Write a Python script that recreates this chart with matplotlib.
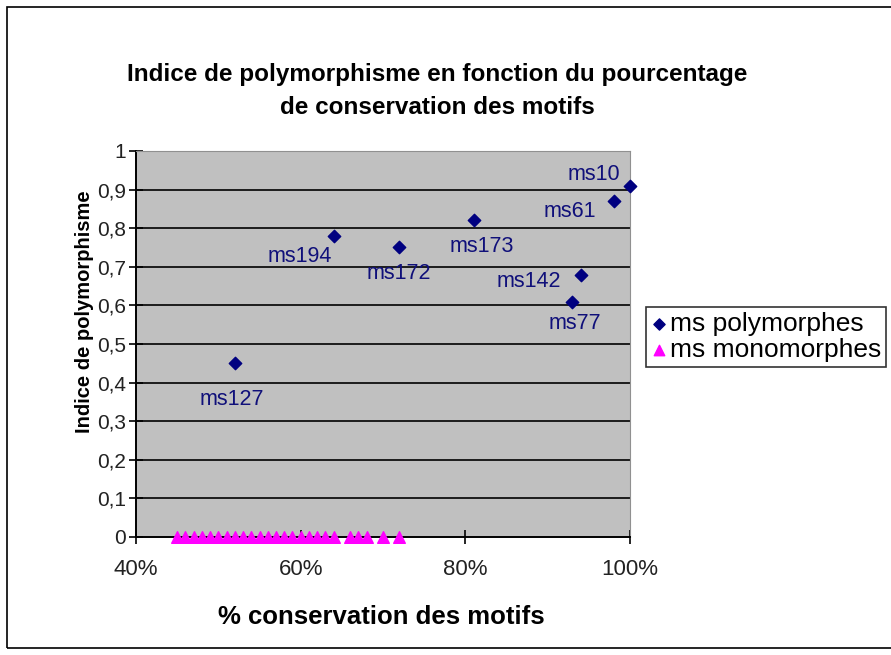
import matplotlib
matplotlib.use("Agg")
import matplotlib.pyplot as plt
from matplotlib.patches import Rectangle

plt.rcParams['font.family'] = ['Liberation Sans', 'DejaVu Sans']

# ms polymorphes: % conservation, indice de polymorphisme
poly_names = ["ms127", "ms194", "ms172", "ms173", "ms10", "ms61", "ms142", "ms77"]
poly_x = [52, 64, 72, 81, 100, 98, 94, 93]
poly_y = [0.45, 0.78, 0.75, 0.82, 0.91, 0.87, 0.68, 0.61]

# ms monomorphes (indice = 0)
mono_x = [45, 46, 47, 48, 49, 50, 51, 52, 53, 54, 55, 56, 57, 58, 59, 60,
          61, 62, 63, 64, 66, 67, 68, 70, 72]
mono_y = [0] * len(mono_x)

x_ticks = [40, 60, 80, 100]
x_tick_labels = ["40%", "60%", "80%", "100%"]
y_ticks = [0, 0.1, 0.2, 0.3, 0.4, 0.5, 0.6, 0.7, 0.8, 0.9, 1]
y_tick_labels = ["0", "0,1", "0,2", "0,3", "0,4", "0,5", "0,6", "0,7", "0,8", "0,9", "1"]

# label offsets in pixels (dx, dy) relative to each point
label_offsets = {
    "ms127": (-3, -36), "ms194": (-34, -21), "ms172": (-1, -26), "ms173": (8, -26),
    "ms10": (-36, 11), "ms61": (-44, -10), "ms142": (-52, -7), "ms77": (3, -22),
}

fig = plt.figure(figsize=(8.91, 6.55), dpi=100)
fig.patch.set_facecolor("white")

# outer chart border
fig.patches.append(Rectangle((7 / 891, 7 / 655), 1.0, 1 - 14 / 655, transform=fig.transFigure,
                             fill=False, edgecolor="black", linewidth=1.2))

ax = fig.add_axes([136 / 891, 1 - 537 / 655, 494 / 891, 386 / 655])
ax.set_facecolor("#c0c0c0")

for y in y_ticks[1:-1]:
    ax.axhline(y, color="black", linewidth=1.2, zorder=1)

ax.scatter(poly_x, poly_y, marker="D", s=40, color="#000080", zorder=3,
           label="ms polymorphes", clip_on=False)
ax.scatter(mono_x, mono_y, marker="^", s=70, color="#ff00ff", zorder=3,
           label="ms monomorphes", clip_on=False)

for name, x, y in zip(poly_names, poly_x, poly_y):
    dx, dy = label_offsets[name]
    ax.annotate(name, (x, y), xytext=(dx, dy), textcoords="offset pixels",
                ha="center", va="center", fontsize=15.5, color="#10107a", zorder=4)

ax.set_xlim(40, 100)
ax.set_ylim(0, 1)
ax.set_xticks(x_ticks)
ax.set_xticklabels(x_tick_labels)
ax.set_yticks(y_ticks)
ax.set_yticklabels(y_tick_labels)
ax.tick_params(direction="inout", length=10, width=1.2, labelsize=16, colors="black")
ax.tick_params(axis="x", pad=11)
ax.tick_params(axis="y", pad=2, labelsize=15)
for lab in ax.get_xticklabels() + ax.get_yticklabels():
    lab.set_color("#222222")

ax.spines["left"].set_linewidth(1.4)
ax.spines["bottom"].set_linewidth(1.4)
ax.spines["top"].set_color("#909090")
ax.spines["right"].set_color("#909090")

fig.text(437 / 891, 1 - 75 / 655, "Indice de polymorphisme en fonction du pourcentage",
         ha="center", va="center", fontsize=17.5, fontweight="bold")
fig.text(437 / 891, 1 - 108 / 655, "de conservation des motifs",
         ha="center", va="center", fontsize=17.5, fontweight="bold")
fig.text(381 / 891, 1 - 617 / 655, "% conservation des motifs",
         ha="center", va="center", fontsize=18.5, fontweight="bold")
fig.text(84 / 891, 1 - 312 / 655, "Indice de polymorphisme", rotation=90,
         ha="center", va="center", fontsize=14.5, fontweight="bold")

leg = ax.legend(loc="upper left", bbox_to_anchor=(646 / 891, 1 - 307 / 655),
                bbox_transform=fig.transFigure, frameon=True, fancybox=False,
                fontsize=19, handletextpad=0.1, handlelength=0.6, borderpad=0.2,
                labelspacing=0.05, borderaxespad=0, markerscale=0.9)
leg.get_frame().set_edgecolor("black")
leg.get_frame().set_linewidth(1.2)

fig.savefig("out.png", dpi=100)
